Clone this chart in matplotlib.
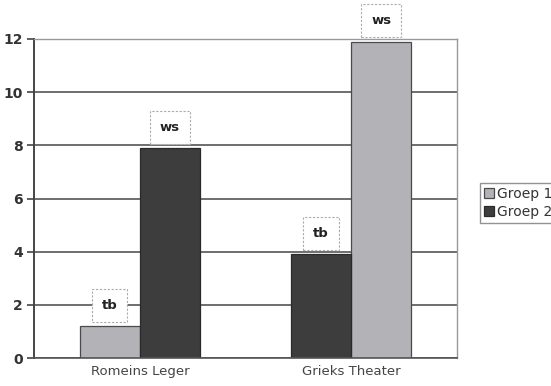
import numpy as np
import matplotlib
matplotlib.use("Agg")
from matplotlib import pyplot as plt

categories = ["Romeins Leger", "Grieks Theater"]
groups = ["Groep 1", "Groep 2"]
groep_1 = [1.2, 11.9]
groep_2 = [7.9, 3.9]
labels_1 = ["tb", "ws"]
labels_2 = ["ws", "tb"]
# which side each group sits on per category (-1 left, +1 right)
side_1 = [-1, 1]
side_2 = [1, -1]

light = "#b3b3b7"
dark = "#3d3d3d"
width = 0.285

fig = plt.figure(figsize=(5.51, 3.86), dpi=100)
ax = fig.add_axes([0.062, 0.0725, 0.767, 0.8265])

x = np.arange(len(categories))
pos_1 = x + np.array(side_1) * width / 2
pos_2 = x + np.array(side_2) * width / 2

ax.set_axisbelow(True)
ax.yaxis.grid(True, color="#555555", linewidth=1.2)
b1 = ax.bar(pos_1, groep_1, width, color=light, edgecolor="#4a4a4a", linewidth=0.9, label=groups[0])
b2 = ax.bar(pos_2, groep_2, width, color=dark, edgecolor="#2a2a2a", linewidth=0.9, label=groups[1])

box = dict(boxstyle="square,pad=0.75", fc="white", ec="#aaaaaa", ls=(0, (2, 1.5)), lw=0.8)
for bars, labs in ((b1, labels_1), (b2, labels_2)):
    for rect, lab in zip(bars, labs):
        ax.annotate(lab, (rect.get_x() + rect.get_width() / 2, rect.get_height()),
                    xytext=(0, 15), textcoords="offset points", ha="center", va="center",
                    fontsize=9.5, fontweight="bold", color="#222222", bbox=box)

ax.set_xlim(-0.5, 1.5)
ax.set_ylim(0, 12)
ax.set_yticks(range(0, 13, 2))
ax.set_xticks(x)
ax.set_xticklabels(categories, fontsize=9.5, color="#444444")
ax.tick_params(axis="x", length=0, pad=5)
ax.tick_params(axis="y", length=5, width=1.2, color="#444444", labelsize=10, pad=3)
for t in ax.get_yticklabels():
    t.set_fontweight("bold")
    t.set_color("#333333")

ax.spines["left"].set_color("#444444")
ax.spines["left"].set_linewidth(1.4)
ax.spines["bottom"].set_color("#555555")
ax.spines["bottom"].set_linewidth(1.2)
for s in ("top", "right"):
    ax.spines[s].set_color("#999999")
    ax.spines[s].set_linewidth(1.0)

leg = fig.legend(loc="upper left", bbox_to_anchor=(0.871, 0.527), fontsize=10,
                 frameon=True, fancybox=False, edgecolor="#777777",
                 handlelength=0.7, handleheight=0.7, handletextpad=0.2,
                 borderpad=0.3, labelspacing=0.3, borderaxespad=0)
for t in leg.get_texts():
    t.set_color("#333333")

fig.savefig("out.png", dpi=100)
